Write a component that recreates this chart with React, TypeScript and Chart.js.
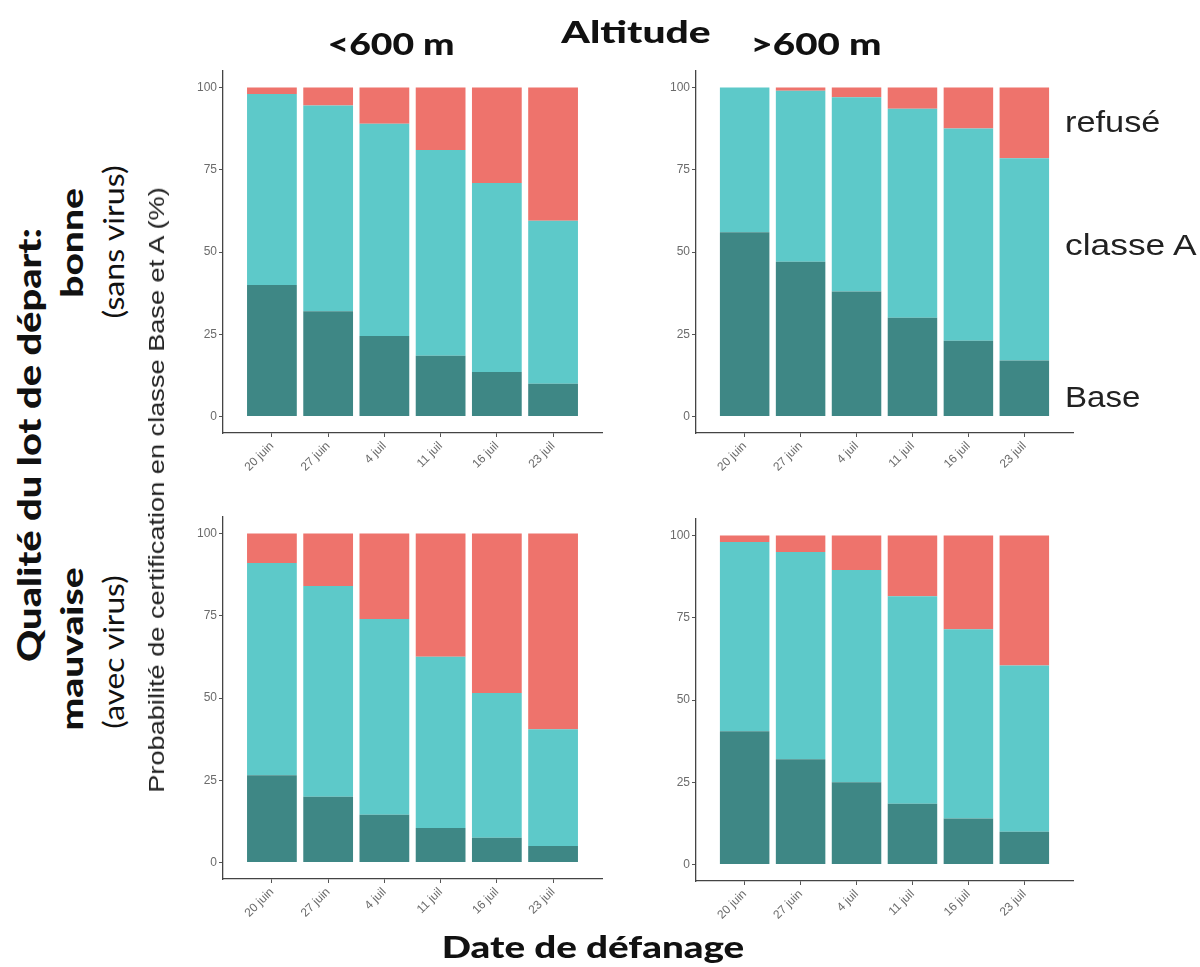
import React, { useEffect, useLayoutEffect, useRef, useState } from 'react';
import { Chart, registerables } from 'chart.js';

Chart.register(...registerables);

// ---- data ----
const dates = ['20 juin', '27 juin', '4 juil', '11 juil', '16 juil', '23 juil'];
const yTickValues = [0, 25, 50, 75, 100];
const seriesNames = ['Base', 'classe A', 'refusé'];

// <600 m, bonne (sans virus)
const baseLowGood = [40, 32, 24.5, 18.5, 13.5, 10];
const classALowGood = [58, 62.5, 64.5, 62.5, 57.5, 49.5];
const refusedLowGood = [2, 5.5, 11, 19, 29, 40.5];

// >600 m, bonne (sans virus)
const baseHighGood = [56, 47, 38, 30, 23, 17];
const classAHighGood = [44, 52, 59, 63.5, 64.5, 61.5];
const refusedHighGood = [0, 1, 3, 6.5, 12.5, 21.5];

// <600 m, mauvaise (avec virus)
const baseLowBad = [26.5, 20, 14.5, 10.5, 7.5, 5];
const classALowBad = [64.5, 64, 59.5, 52, 44, 35.5];
const refusedLowBad = [9, 16, 26, 37.5, 48.5, 59.5];

// >600 m, mauvaise (avec virus)
const baseHighBad = [40.5, 32, 25, 18.5, 14, 10];
const classAHighBad = [57.5, 63, 64.5, 63, 57.5, 50.5];
const refusedHighBad = [2, 5, 10.5, 18.5, 28.5, 39.5];

const colors = ['#3e8785', '#5dc9c9', '#ee736c'];

const Y_W = 60;
const PAD_T = 20;
const PAD_R = 20;
const X_H = 70;

type Area = { left: number; top: number; right: number; bottom: number };

function Panel({ series, area }: { series: number[][]; area: Area }) {
  const ref = useRef<HTMLCanvasElement | null>(null);
  const w = Y_W + (area.right - area.left) + PAD_R;
  const h = PAD_T + (area.bottom - area.top) + X_H;
  useEffect(() => {
    if (!ref.current) return;
    const chart = new Chart(ref.current, {
      type: 'bar',
      data: {
        datasets: series.map((vals, k) => ({
          label: seriesNames[k],
          data: vals.map((v, i) => ({ x: i, y: v })),
          backgroundColor: colors[k],
          borderWidth: 0,
          categoryPercentage: 1,
          barPercentage: 0.885,
        })),
      },
      options: {
        animation: false,
        responsive: false,
        maintainAspectRatio: false,
        layout: { padding: { top: PAD_T, right: PAD_R, left: 0, bottom: 0 } },
        plugins: { legend: { display: false }, tooltip: { enabled: false } },
        scales: {
          x: {
            type: 'linear',
            min: -0.87,
            max: 5.87,
            stacked: true,
            offset: false,
            afterBuildTicks: (s: any) => {
              s.ticks = dates.map((_, i) => ({ value: i }));
            },
            afterFit: (s: any) => {
              s.height = X_H;
            },
            grid: { display: true, offset: false, drawOnChartArea: false, drawTicks: true, tickLength: 4, color: '#555', lineWidth: 1 },
            border: { display: true, color: '#444', width: 1.3 },
            ticks: {
              autoSkip: false,
              maxRotation: 45,
              minRotation: 45,
              color: '#6b6b6b',
              padding: 2,
              font: { family: 'Liberation Sans', size: 12 },
              callback: (v: any) => dates[Math.round(Number(v))],
            },
          },
          y: {
            type: 'linear',
            min: -5,
            max: 105,
            stacked: true,
            afterBuildTicks: (s: any) => {
              s.ticks = yTickValues.map((v) => ({ value: v }));
            },
            afterFit: (s: any) => {
              s.width = Y_W;
            },
            grid: { display: true, offset: false, drawOnChartArea: false, drawTicks: true, tickLength: 4, color: '#555', lineWidth: 1 },
            border: { display: true, color: '#444', width: 1.3 },
            ticks: {
              color: '#6b6b6b',
              padding: 2,
              font: { family: 'Liberation Sans', size: 12 },
              callback: (v: any) => String(v),
            },
          },
        },
      } as any,
    });
    return () => chart.destroy();
  }, []);
  return (
    <canvas
      ref={ref}
      width={w}
      height={h}
      style={{ position: 'absolute', left: area.left - Y_W, top: area.top - PAD_T, width: w, height: h }}
    />
  );
}

function Txt({
  text, x, y, size, len, weight = 400, family = 'Lato', rotate = 0, align = 'center', color = '#111',
}: {
  text: string; x: number; y: number; size: number; len?: number; weight?: number; family?: string;
  rotate?: number; align?: 'center' | 'left'; color?: string;
}) {
  const ref = useRef<HTMLDivElement | null>(null);
  const [s, setS] = useState(1);
  useLayoutEffect(() => {
    const measure = () => {
      if (ref.current && len) {
        const w = ref.current.offsetWidth;
        if (w > 0) setS(len / w);
      }
    };
    measure();
    if ((document as any).fonts && (document as any).fonts.ready) {
      (document as any).fonts.ready.then(measure);
    }
  }, []);
  const transform =
    align === 'center'
      ? `translate(-50%, -50%) rotate(${rotate}deg) scaleX(${s})`
      : `translateY(-50%) scaleX(${s})`;
  return (
    <div
      ref={ref}
      style={{
        position: 'absolute',
        left: x,
        top: y,
        transform,
        transformOrigin: align === 'center' ? 'center center' : 'left center',
        whiteSpace: 'nowrap',
        fontFamily: family,
        fontSize: size,
        fontWeight: weight,
        color,
        lineHeight: 1,
      }}
    >
      {text}
    </div>
  );
}

export default function App() {
  return (
    <div style={{ position: 'absolute', left: 0, top: 0, width: 1200, height: 967, background: '#fff', overflow: 'hidden' }}>
      <Panel series={[baseLowGood, classALowGood, refusedLowGood]} area={{ left: 222.5, top: 70.5, right: 602, bottom: 432.5 }} />
      <Panel series={[baseHighGood, classAHighGood, refusedHighGood]} area={{ left: 696, top: 70.5, right: 1073, bottom: 432.5 }} />
      <Panel series={[baseLowBad, classALowBad, refusedLowBad]} area={{ left: 223, top: 517, right: 602, bottom: 879 }} />
      <Panel series={[baseHighBad, classAHighBad, refusedHighBad]} area={{ left: 696, top: 519, right: 1073, bottom: 881 }} />

      <Txt text="<600 m" x={390.5} y={43} size={30} len={127} weight={900} />
      <Txt text="Altitude" x={636} y={31} size={31} len={150} weight={900} />
      <Txt text=">600 m" x={815.5} y={43} size={30} len={131} weight={900} />

      <Txt text="Qualité du lot de départ:" x={28} y={445} size={33} len={434} weight={900} rotate={-90} />
      <Txt text="bonne" x={71} y={243} size={31} len={109} weight={900} rotate={-90} />
      <Txt text="(sans virus)" x={113} y={242} size={28} len={153} weight={400} rotate={-90} />
      <Txt text="mauvaise" x={71} y={649} size={31} len={163} weight={900} rotate={-90} />
      <Txt text="(avec virus)" x={113} y={652} size={28} len={153} weight={400} rotate={-90} />
      <Txt text="Probabilité de certification en classe Base et A (%)" x={157} y={490} size={22} len={605} family="Liberation Sans" rotate={-90} color="#222" />

      <Txt text="Date de défanage" x={593} y={946} size={30} len={303} weight={900} />

      <Txt text="refusé" x={1065} y={122} size={30} len={95} family="Liberation Sans" align="left" color="#222" />
      <Txt text="classe A" x={1065} y={245} size={30} len={132} family="Liberation Sans" align="left" color="#222" />
      <Txt text="Base" x={1065} y={397} size={30} len={75} family="Liberation Sans" align="left" color="#222" />
    </div>
  );
}
